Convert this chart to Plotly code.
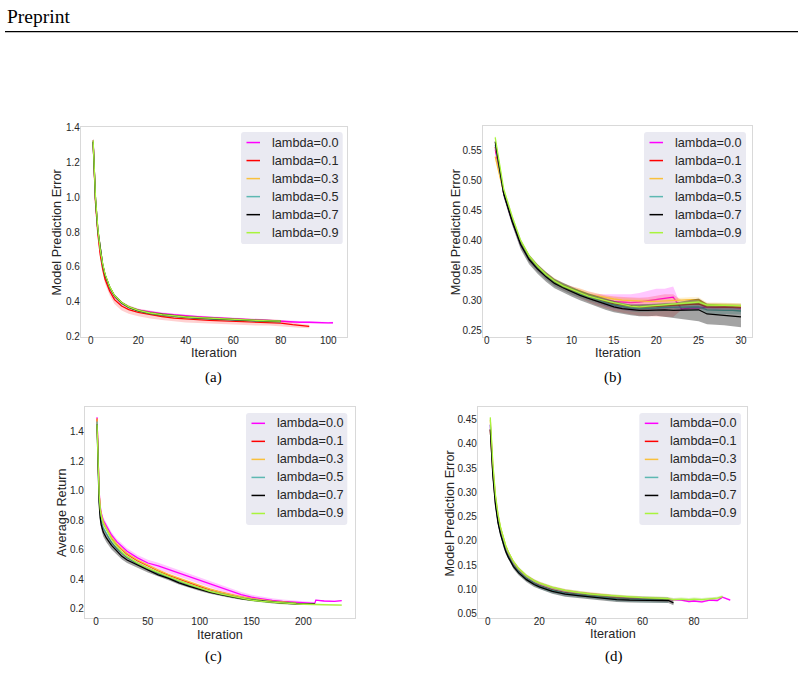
import plotly.graph_objects as go

W, H = 804, 677

LABELS = ["lambda=0.0", "lambda=0.1", "lambda=0.3", "lambda=0.5", "lambda=0.7", "lambda=0.9"]
LINE_COLORS = ["#ff00ff", "#ff0000", "#f9c03c", "#5db8b2", "#000000", "#a9f43c"]
BAND_COLORS = ["rgba(255,0,255,0.22)", "rgba(255,0,0,0.18)", "rgba(249,192,60,0.25)",
               "rgba(93,184,178,0.32)", "rgba(0,0,0,0.36)", "rgba(140,200,40,0.30)"]

# ---------------- panel (a) ----------------
X_A = [1, 2, 3, 4, 5, 6, 8, 10, 13, 16, 20, 25, 30, 35, 40, 45, 50, 55, 60, 65, 70, 75, 80, 85, 88, 92, 96, 100, 102]
A_L00 = [1.33, 0.99, 0.81, 0.69, 0.61, 0.55, 0.475, 0.43, 0.39, 0.368, 0.352, 0.340, 0.332, 0.325, 0.318, 0.314,
         0.310, 0.306, 0.303, 0.300, 0.296, 0.293, 0.290, 0.284, 0.282, 0.282, 0.279, 0.278, 0.279]
A_L00_SD = [0.005, 0.005, 0.005, 0.005, 0.005, 0.006, 0.006, 0.007, 0.007, 0.007, 0.007, 0.007, 0.007, 0.007, 0.007,
            0.007, 0.007, 0.007, 0.007, 0.007, 0.007, 0.007, 0.007, 0.007, 0.007, 0.006, 0.006, 0.006, 0.006]
A_L01 = [1.32, 0.97, 0.79, 0.67, 0.59, 0.53, 0.46, 0.412, 0.375, 0.355, 0.338, 0.325, 0.315, 0.306, 0.300, 0.297,
         0.293, 0.290, 0.288, 0.285, 0.283, 0.281, 0.277, 0.268, 0.262, 0.258]
A_L01_SD = [0.010, 0.015, 0.020, 0.022, 0.024, 0.025, 0.025, 0.025, 0.025, 0.024, 0.022, 0.022, 0.020, 0.020, 0.020,
            0.020, 0.020, 0.020, 0.020, 0.020, 0.020, 0.018, 0.018, 0.015, 0.012, 0.010]
A_L03 = [1.32, 0.99, 0.81, 0.695, 0.615, 0.555, 0.483, 0.434, 0.394, 0.369, 0.349, 0.334, 0.325, 0.317, 0.311, 0.307,
         0.303, 0.299, 0.296, 0.293, 0.291, 0.289, 0.287]
A_L03_SD = [0.008, 0.008, 0.008, 0.008, 0.008, 0.008, 0.008, 0.008, 0.008, 0.008, 0.008, 0.008, 0.008, 0.008, 0.008,
            0.008, 0.008, 0.008, 0.008, 0.008, 0.008, 0.008, 0.008]
A_L05 = [1.32, 0.99, 0.81, 0.694, 0.614, 0.554, 0.482, 0.433, 0.393, 0.368, 0.348, 0.333, 0.324, 0.316, 0.310, 0.306,
         0.302, 0.298, 0.295, 0.292, 0.290, 0.288, 0.286]
A_L05_SD = [0.007, 0.007, 0.007, 0.007, 0.007, 0.007, 0.007, 0.007, 0.007, 0.007, 0.007, 0.007, 0.007, 0.007, 0.007,
            0.007, 0.007, 0.007, 0.007, 0.007, 0.007, 0.007, 0.007]
A_L07 = [1.32, 0.99, 0.81, 0.695, 0.615, 0.555, 0.483, 0.434, 0.394, 0.369, 0.349, 0.334, 0.325, 0.317, 0.311, 0.307,
         0.303, 0.299, 0.296, 0.293, 0.291, 0.289, 0.287]
A_L07_SD = [0.007, 0.007, 0.007, 0.007, 0.007, 0.007, 0.007, 0.007, 0.007, 0.007, 0.007, 0.007, 0.007, 0.007, 0.007,
            0.007, 0.007, 0.007, 0.007, 0.007, 0.007, 0.007, 0.007]
A_L09 = [1.33, 1.00, 0.82, 0.70, 0.62, 0.56, 0.485, 0.435, 0.395, 0.370, 0.350, 0.335, 0.326, 0.318, 0.312, 0.308,
         0.304, 0.300, 0.297, 0.294, 0.292, 0.290, 0.288]
A_L09_SD = [0.005, 0.005, 0.005, 0.005, 0.005, 0.005, 0.005, 0.005, 0.005, 0.005, 0.005, 0.005, 0.005, 0.005, 0.005,
            0.005, 0.005, 0.005, 0.005, 0.005, 0.005, 0.005, 0.005]

# ---------------- panel (b) ----------------
X_B = [1, 2, 3, 4, 5, 6, 7, 8, 9, 10, 11, 12, 13, 14, 15, 16, 17, 18, 19, 20, 21, 22, 23, 24, 25, 26, 27, 28, 29, 30]
B_L00 = [0.552, 0.478, 0.432, 0.393, 0.369, 0.353, 0.341, 0.331, 0.323, 0.317, 0.313, 0.307, 0.303, 0.300, 0.298,
         0.297, 0.296, 0.297, 0.299, 0.301, 0.302, 0.305, 0.285, 0.287, 0.287, 0.289, 0.288, 0.289, 0.288, 0.287]
B_L00_SD = [0.003, 0.003, 0.003, 0.003, 0.003, 0.003, 0.003, 0.003, 0.003, 0.003, 0.003, 0.004, 0.007, 0.010, 0.012,
            0.013, 0.014, 0.015, 0.017, 0.018, 0.017, 0.018, 0.003, 0.003, 0.003, 0.003, 0.003, 0.003, 0.003, 0.003]
B_L01 = [0.556, 0.480, 0.434, 0.395, 0.370, 0.354, 0.341, 0.330, 0.322, 0.316, 0.311, 0.306, 0.301, 0.297, 0.294,
         0.292, 0.290, 0.289, 0.289, 0.290, 0.291, 0.291, 0.292, 0.293, 0.294, 0.289, 0.289, 0.289, 0.289, 0.288]
B_L01_SD = [0.004, 0.005, 0.006, 0.006, 0.006, 0.006, 0.006, 0.006, 0.006, 0.007, 0.008, 0.009, 0.010, 0.011, 0.012,
            0.013, 0.014, 0.015, 0.016, 0.018, 0.019, 0.019, 0.008, 0.008, 0.008, 0.006, 0.006, 0.006, 0.006, 0.006]
B_L03 = [0.540, 0.480, 0.436, 0.397, 0.372, 0.356, 0.343, 0.333, 0.325, 0.319, 0.316, 0.310, 0.307, 0.304, 0.302,
         0.300, 0.299, 0.298, 0.298, 0.298, 0.299, 0.299, 0.301, 0.301, 0.301, 0.292, 0.292, 0.292, 0.292, 0.291]
B_L03_SD = [0.004, 0.004, 0.004, 0.004, 0.004, 0.004, 0.004, 0.004, 0.004, 0.004, 0.004, 0.004, 0.004, 0.004, 0.004,
            0.004, 0.004, 0.004, 0.004, 0.004, 0.004, 0.004, 0.004, 0.004, 0.004, 0.004, 0.004, 0.004, 0.004, 0.004]
B_L05 = [0.560, 0.479, 0.433, 0.394, 0.369, 0.353, 0.340, 0.329, 0.322, 0.315, 0.310, 0.305, 0.300, 0.296, 0.292,
         0.289, 0.287, 0.286, 0.286, 0.287, 0.288, 0.288, 0.288, 0.289, 0.289, 0.284, 0.283, 0.283, 0.283, 0.282]
B_L05_SD = [0.006, 0.006, 0.006, 0.006, 0.006, 0.006, 0.006, 0.006, 0.006, 0.006, 0.006, 0.006, 0.006, 0.006, 0.006,
            0.006, 0.006, 0.006, 0.006, 0.006, 0.006, 0.006, 0.006, 0.006, 0.006, 0.006, 0.006, 0.006, 0.006, 0.006]
B_L07 = [0.565, 0.478, 0.432, 0.393, 0.368, 0.352, 0.339, 0.328, 0.321, 0.314, 0.308, 0.303, 0.298, 0.293, 0.289,
         0.286, 0.284, 0.283, 0.283, 0.284, 0.284, 0.283, 0.283, 0.284, 0.284, 0.277, 0.276, 0.275, 0.274, 0.272]
B_L07_SD = [0.005, 0.006, 0.007, 0.008, 0.008, 0.008, 0.008, 0.008, 0.008, 0.008, 0.008, 0.008, 0.009, 0.009, 0.009,
            0.009, 0.009, 0.010, 0.010, 0.010, 0.011, 0.012, 0.015, 0.017, 0.019, 0.017, 0.017, 0.017, 0.017, 0.017]
B_L09 = [0.572, 0.486, 0.440, 0.400, 0.374, 0.357, 0.343, 0.332, 0.324, 0.318, 0.313, 0.307, 0.303, 0.299, 0.296,
         0.293, 0.290, 0.289, 0.290, 0.291, 0.293, 0.294, 0.295, 0.296, 0.297, 0.292, 0.292, 0.292, 0.292, 0.291]
B_L09_SD = [0.003, 0.003, 0.003, 0.003, 0.003, 0.003, 0.003, 0.003, 0.003, 0.003, 0.003, 0.003, 0.003, 0.003, 0.003,
            0.003, 0.003, 0.003, 0.003, 0.003, 0.003, 0.003, 0.003, 0.003, 0.003, 0.003, 0.003, 0.003, 0.003, 0.003]

# ---------------- panel (c) ----------------
X_C = [1, 2, 3, 4, 5, 7, 10, 15, 20, 25, 30, 40, 50, 60, 70, 80, 90, 100, 110, 120, 130, 140, 150, 160, 170, 180,
       193, 200, 211, 212, 220, 230, 237]
C_L00 = [1.50, 1.20, 1.00, 0.90, 0.85, 0.80, 0.76, 0.70, 0.655, 0.62, 0.59, 0.545, 0.51, 0.49, 0.465, 0.44, 0.415,
         0.39, 0.365, 0.34, 0.315, 0.295, 0.278, 0.266, 0.257, 0.250, 0.243, 0.240, 0.236, 0.258, 0.252, 0.250, 0.254]
C_L00_SD = [0.005, 0.010, 0.015, 0.020, 0.020, 0.020, 0.020, 0.020, 0.020, 0.020, 0.020, 0.020, 0.022, 0.022, 0.022,
            0.022, 0.022, 0.022, 0.022, 0.020, 0.020, 0.018, 0.016, 0.015, 0.014, 0.013, 0.012, 0.012, 0.010, 0.004,
            0.004, 0.004, 0.004]
C_L01 = [1.49, 1.17, 0.98, 0.88, 0.83, 0.78, 0.74, 0.68, 0.635, 0.60, 0.57, 0.525, 0.49, 0.458, 0.428, 0.402, 0.377,
         0.352, 0.330, 0.310, 0.293, 0.279, 0.267, 0.257, 0.249, 0.243, 0.237]
C_L01_SD = [0.008, 0.008, 0.008, 0.008, 0.008, 0.008, 0.008, 0.008, 0.008, 0.008, 0.008, 0.008, 0.008, 0.008, 0.008,
            0.008, 0.008, 0.008, 0.008, 0.008, 0.008, 0.008, 0.008, 0.008, 0.008, 0.008, 0.008]
C_L03 = [1.49, 1.18, 0.99, 0.89, 0.84, 0.79, 0.745, 0.685, 0.64, 0.605, 0.575, 0.53, 0.495, 0.462, 0.432, 0.406, 0.380,
         0.355, 0.333, 0.312, 0.295, 0.280, 0.268, 0.258, 0.250, 0.244, 0.238]
C_L03_SD = [0.008, 0.008, 0.008, 0.008, 0.008, 0.008, 0.008, 0.008, 0.008, 0.008, 0.008, 0.008, 0.008, 0.008, 0.008,
            0.008, 0.008, 0.008, 0.008, 0.008, 0.008, 0.008, 0.008, 0.008, 0.008, 0.008, 0.008]
C_L05 = [1.47, 1.14, 0.95, 0.85, 0.80, 0.75, 0.71, 0.65, 0.608, 0.575, 0.548, 0.505, 0.47, 0.44, 0.41, 0.385, 0.36,
         0.337, 0.316, 0.299, 0.284, 0.271, 0.260, 0.252, 0.245, 0.239, 0.234]
C_L05_SD = [0.008, 0.008, 0.008, 0.008, 0.008, 0.008, 0.008, 0.008, 0.008, 0.008, 0.008, 0.008, 0.008, 0.008, 0.008,
            0.008, 0.008, 0.008, 0.008, 0.008, 0.008, 0.008, 0.008, 0.008, 0.008, 0.008, 0.008]
C_L07 = [1.45, 1.10, 0.92, 0.82, 0.77, 0.72, 0.68, 0.63, 0.59, 0.555, 0.53, 0.495, 0.46, 0.43, 0.405, 0.375, 0.352,
         0.330, 0.310, 0.295, 0.280, 0.268, 0.258, 0.250, 0.243, 0.238, 0.232, 0.231, 0.232]
C_L07_SD = [0.010, 0.020, 0.030, 0.030, 0.030, 0.030, 0.030, 0.028, 0.025, 0.022, 0.020, 0.018, 0.015, 0.013, 0.012,
            0.011, 0.010, 0.010, 0.009, 0.009, 0.008, 0.008, 0.008, 0.007, 0.007, 0.007, 0.006, 0.006, 0.006]
C_L09 = [1.45, 1.15, 0.98, 0.88, 0.83, 0.78, 0.735, 0.67, 0.625, 0.585, 0.555, 0.51, 0.475, 0.445, 0.415, 0.39, 0.365,
         0.340, 0.318, 0.300, 0.285, 0.270, 0.258, 0.250, 0.243, 0.237, 0.232, 0.230, 0.228, 0.228, 0.226, 0.225, 0.224]
C_L09_SD = [0.008, 0.008, 0.008, 0.008, 0.008, 0.008, 0.008, 0.008, 0.008, 0.008, 0.008, 0.008, 0.008, 0.008, 0.008,
            0.008, 0.008, 0.008, 0.008, 0.008, 0.008, 0.008, 0.008, 0.008, 0.008, 0.008, 0.008, 0.008, 0.006, 0.005,
            0.005, 0.005, 0.005]

# ---------------- panel (d) ----------------
X_D = [1, 2, 3, 4, 5, 6, 7, 8, 10, 12, 15, 18, 20, 25, 30, 35, 40, 45, 50, 55, 60, 65, 70, 72, 75, 78, 80, 83, 86, 89,
       91, 94]
D_L00 = [0.44, 0.35, 0.29, 0.25, 0.225, 0.203, 0.188, 0.175, 0.155, 0.142, 0.127, 0.117, 0.112, 0.103, 0.097, 0.093,
         0.090, 0.087, 0.085, 0.083, 0.082, 0.081, 0.080, 0.079, 0.078, 0.075, 0.076, 0.074, 0.078, 0.077, 0.084, 0.078]
D_L00_SD = [0.003, 0.003, 0.003, 0.003, 0.003, 0.003, 0.003, 0.003, 0.003, 0.003, 0.003, 0.003, 0.003, 0.003, 0.003,
            0.003, 0.003, 0.003, 0.003, 0.003, 0.003, 0.003, 0.003, 0.002, 0.002, 0.002, 0.002, 0.002, 0.002, 0.002,
            0.002, 0.002]
D_L01 = [0.43, 0.34, 0.28, 0.242, 0.218, 0.198, 0.183, 0.171, 0.151, 0.138, 0.123, 0.113, 0.108, 0.099, 0.093, 0.089,
         0.086, 0.084, 0.082, 0.080, 0.079, 0.078, 0.078]
D_L01_SD = [0.003, 0.003, 0.003, 0.003, 0.003, 0.003, 0.003, 0.003, 0.003, 0.003, 0.003, 0.003, 0.003, 0.003, 0.003,
            0.003, 0.003, 0.003, 0.003, 0.003, 0.003, 0.003, 0.003]
D_L03 = [0.45, 0.355, 0.292, 0.253, 0.227, 0.206, 0.190, 0.177, 0.157, 0.143, 0.128, 0.118, 0.113, 0.104, 0.098, 0.094,
         0.091, 0.088, 0.086, 0.084, 0.083, 0.082, 0.081]
D_L03_SD = [0.003, 0.003, 0.003, 0.003, 0.003, 0.003, 0.003, 0.003, 0.003, 0.003, 0.003, 0.003, 0.003, 0.003, 0.003,
            0.003, 0.003, 0.003, 0.003, 0.003, 0.003, 0.003, 0.003]
D_L05 = [0.44, 0.34, 0.278, 0.240, 0.216, 0.196, 0.181, 0.169, 0.150, 0.137, 0.123, 0.113, 0.107, 0.098, 0.092, 0.089,
         0.086, 0.084, 0.081, 0.080, 0.079, 0.078, 0.078]
D_L05_SD = [0.006, 0.006, 0.006, 0.006, 0.006, 0.006, 0.006, 0.006, 0.006, 0.006, 0.006, 0.006, 0.006, 0.006, 0.006,
            0.006, 0.006, 0.006, 0.006, 0.006, 0.006, 0.006, 0.006]
D_L07 = [0.43, 0.335, 0.275, 0.237, 0.213, 0.193, 0.178, 0.166, 0.147, 0.134, 0.120, 0.110, 0.105, 0.096, 0.090, 0.087,
         0.084, 0.082, 0.079, 0.078, 0.078, 0.077, 0.077, 0.072]
D_L07_SD = [0.005, 0.005, 0.005, 0.005, 0.005, 0.005, 0.005, 0.005, 0.005, 0.005, 0.005, 0.005, 0.005, 0.005, 0.005,
            0.005, 0.005, 0.005, 0.005, 0.005, 0.005, 0.005, 0.005, 0.005]
D_L09 = [0.455, 0.36, 0.295, 0.255, 0.228, 0.207, 0.190, 0.177, 0.157, 0.143, 0.128, 0.118, 0.113, 0.104, 0.098, 0.094,
         0.090, 0.088, 0.086, 0.084, 0.083, 0.082, 0.081, 0.079, 0.080, 0.079, 0.080, 0.079, 0.081, 0.082, 0.085]
D_L09_SD = [0.003, 0.003, 0.003, 0.003, 0.003, 0.003, 0.003, 0.003, 0.003, 0.003, 0.003, 0.003, 0.003, 0.003, 0.003,
            0.003, 0.003, 0.003, 0.003, 0.003, 0.003, 0.003, 0.003, 0.003, 0.003, 0.003, 0.003, 0.003, 0.003, 0.003,
            0.003]

# ---------------- axis ticks ----------------
A_XTICKS = [0, 20, 40, 60, 80, 100]
A_YTICKS = [0.2, 0.4, 0.6, 0.8, 1.0, 1.2, 1.4]
B_XTICKS = [0, 5, 10, 15, 20, 25, 30]
B_YTICKS = [0.25, 0.30, 0.35, 0.40, 0.45, 0.50, 0.55]
C_XTICKS = [0, 50, 100, 150, 200]
C_YTICKS = [0.2, 0.4, 0.6, 0.8, 1.0, 1.2, 1.4]
D_XTICKS = [0, 20, 40, 60, 80]
D_YTICKS = [0.05, 0.10, 0.15, 0.20, 0.25, 0.30, 0.35, 0.40, 0.45]

PANELS = [
    dict(x=X_A, ys=[A_L00, A_L01, A_L03, A_L05, A_L07, A_L09],
         sds=[A_L00_SD, A_L01_SD, A_L03_SD, A_L05_SD, A_L07_SD, A_L09_SD],
         ax="", box=(81, 124, 347, 337), xr=[-4.1, 107.9], yr=[0.197, 1.403],
         xt=A_XTICKS, yt=A_YTICKS, yfmt=".1f", ylabel="Model Prediction Error",
         leg=(241, 129, 342.7, 242.7), ytx=57.3, xty=353.5, cap="(a)", capxy=(213, 378)),
    dict(x=X_B, ys=[B_L00, B_L01, B_L03, B_L05, B_L07, B_L09],
         sds=[B_L00_SD, B_L01_SD, B_L03_SD, B_L05_SD, B_L07_SD, B_L09_SD],
         ax="2", box=(483, 123, 752, 337), xr=[-0.44, 31.3], yr=[0.2385, 0.5907],
         xt=B_XTICKS, yt=B_YTICKS, yfmt=".2f", ylabel="Model Prediction Error",
         leg=(644, 129, 746, 242.7), ytx=455.7, xty=353.7, cap="(b)", capxy=(613, 378)),
    dict(x=X_C, ys=[C_L00, C_L01, C_L03, C_L05, C_L07, C_L09],
         sds=[C_L00_SD, C_L01_SD, C_L03_SD, C_L05_SD, C_L07_SD, C_L09_SD],
         ax="3", box=(85, 408, 355, 622), xr=[-10.6, 249.8], yr=[0.138, 1.569],
         xt=C_XTICKS, yt=C_YTICKS, yfmt=".1f", ylabel="Average Return",
         leg=(246, 414, 347.3, 527.7), ytx=62.7, xty=639.0, cap="(c)", capxy=(213, 661)),
    dict(x=X_D, ys=[D_L00, D_L01, D_L03, D_L05, D_L07, D_L09],
         sds=[D_L00_SD, D_L01_SD, D_L03_SD, D_L05_SD, D_L07_SD, D_L09_SD],
         ax="4", box=(478, 408, 747, 622), xr=[-3.76, 100.5], yr=[0.0413, 0.4764],
         xt=D_XTICKS, yt=D_YTICKS, yfmt=".2f", ylabel="Model Prediction Error",
         leg=(639.3, 414, 741, 527.7), ytx=450.0, xty=638.5, cap="(d)", capxy=(614, 661)),
]

SANS = "Liberation Sans, Arial, sans-serif"
SERIF = "Liberation Serif, Times New Roman, serif"
TEXT = "#262626"
FRAME = "#d9d9d9"


def fx(p):
    return p / W


def fy(p):
    return 1 - p / H


fig = go.Figure()
layout = dict(width=W, height=H, margin=dict(l=0, r=0, t=0, b=0),
              paper_bgcolor="white", plot_bgcolor="white", showlegend=False)
annotations = []
shapes = []

for k, p in enumerate(PANELS):
    xa = "x" + p["ax"]
    ya = "y" + p["ax"]
    for i in range(6):
        ys = p["ys"][i]
        sd = p["sds"][i]
        xs = p["x"][:len(ys)]
        up = [v + s for v, s in zip(ys, sd)]
        lo = [v - s for v, s in zip(ys, sd)]
        fig.add_trace(go.Scatter(x=xs + xs[::-1], y=up + lo[::-1], fill="toself",
                                 fillcolor=BAND_COLORS[i], line=dict(width=0),
                                 mode="lines", hoverinfo="skip", showlegend=False,
                                 xaxis=xa, yaxis=ya))
        fig.add_trace(go.Scatter(x=xs, y=ys, mode="lines", name=LABELS[i],
                                 line=dict(color=LINE_COLORS[i], width=1.3),
                                 showlegend=False, xaxis=xa, yaxis=ya))

    x0, y0, x1, y1 = p["box"]
    axis_common = dict(showgrid=False, zeroline=False, showline=True, mirror=True,
                       linecolor=FRAME, linewidth=1.2, ticks="",
                       tickfont=dict(family=SANS, size=10, color=TEXT))
    layout["xaxis" + p["ax"]] = dict(axis_common, domain=[fx(x0), fx(x1)], range=p["xr"],
                                     tickvals=p["xt"], anchor=ya, ticklabelstandoff=-6)
    layout["yaxis" + p["ax"]] = dict(axis_common, domain=[fy(y1), fy(y0)], range=p["yr"],
                                     tickvals=p["yt"], tickformat=p["yfmt"], anchor=xa,
                                     ticklabelstandoff=-2)

    # legend box (rounded rectangle with line keys and text labels)
    lx0, ly0, lx1, ly1 = p["leg"]
    r = 3
    path = (f"M {fx(lx0 + r)},{fy(ly0)} L {fx(lx1 - r)},{fy(ly0)} Q {fx(lx1)},{fy(ly0)} {fx(lx1)},{fy(ly0 + r)} "
            f"L {fx(lx1)},{fy(ly1 - r)} Q {fx(lx1)},{fy(ly1)} {fx(lx1 - r)},{fy(ly1)} "
            f"L {fx(lx0 + r)},{fy(ly1)} Q {fx(lx0)},{fy(ly1)} {fx(lx0)},{fy(ly1 - r)} "
            f"L {fx(lx0)},{fy(ly0 + r)} Q {fx(lx0)},{fy(ly0)} {fx(lx0 + r)},{fy(ly0)} Z")
    shapes.append(dict(type="path", path=path, xref="paper", yref="paper",
                       fillcolor="#eaeaf2", line=dict(width=0), layer="above"))
    for i in range(6):
        cy = ly0 + 10.6 + 18.3 * i
        shapes.append(dict(type="line", xref="paper", yref="paper", layer="above",
                           x0=fx(lx0 + 5.5), x1=fx(lx0 + 19), y0=fy(cy), y1=fy(cy),
                           line=dict(color=LINE_COLORS[i], width=1.5)))
        annotations.append(dict(text=LABELS[i], x=fx(lx0 + 28.5), y=fy(cy), xref="paper", yref="paper",
                                xanchor="left", yanchor="middle", showarrow=False,
                                font=dict(family=SANS, size=12.7, color=TEXT)))

    annotations.append(dict(text="Iteration", x=fx((x0 + x1) / 2), y=fy(p["xty"]), xref="paper", yref="paper",
                            xanchor="center", yanchor="middle", showarrow=False,
                            font=dict(family=SANS, size=12.7, color=TEXT)))
    annotations.append(dict(text=p["ylabel"], x=fx(p["ytx"]), y=fy((y0 + y1) / 2), xref="paper", yref="paper",
                            xanchor="center", yanchor="middle", showarrow=False, textangle=-90,
                            font=dict(family=SANS, size=12.7, color=TEXT)))
    annotations.append(dict(text=p["cap"], x=fx(p["capxy"][0]), y=fy(p["capxy"][1]), xref="paper", yref="paper",
                            xanchor="center", yanchor="middle", showarrow=False,
                            font=dict(family=SERIF, size=15, color="black")))

annotations.append(dict(text="Preprint", x=fx(5), y=fy(12), xref="paper", yref="paper",
                        xanchor="left", yanchor="middle", showarrow=False,
                        font=dict(family=SERIF, size=19.5, color="black")))
shapes.append(dict(type="line", x0=fx(5), x1=fx(798), y0=fy(27), y1=fy(27), xref="paper", yref="paper",
                   line=dict(color="black", width=1.1)))

layout["annotations"] = annotations
layout["shapes"] = shapes
fig.update_layout(**layout)
fig.write_html("out.html")
